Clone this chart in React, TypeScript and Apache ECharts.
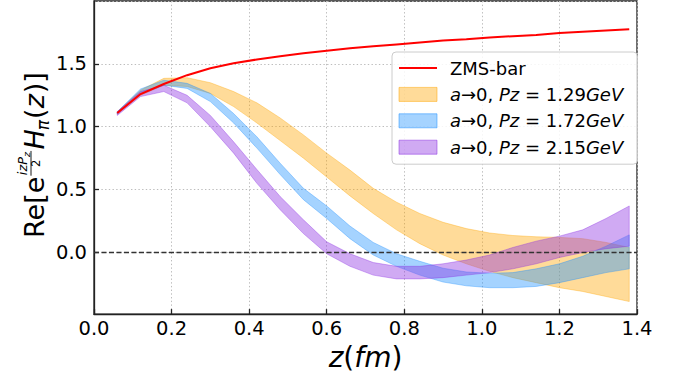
import React, { useEffect, useRef } from "react";
import * as echarts from "echarts";

// ---- data ----
const zValues = [0.06, 0.12, 0.18, 0.24, 0.3, 0.36, 0.42, 0.48, 0.54, 0.6, 0.66, 0.72, 0.78, 0.84, 0.9, 0.96, 1.02, 1.08, 1.14, 1.2, 1.26, 1.32, 1.38];

const zmsBar = [1.11, 1.26, 1.34, 1.41, 1.465, 1.505, 1.535, 1.56, 1.585, 1.605, 1.625, 1.64, 1.655, 1.67, 1.685, 1.695, 1.71, 1.72, 1.73, 1.745, 1.755, 1.765, 1.775];

const pz129Lo = [1.1, 1.25, 1.33, 1.32, 1.265, 1.16, 1.03, 0.89, 0.75, 0.6, 0.45, 0.31, 0.18, 0.07, -0.02, -0.09, -0.15, -0.2, -0.24, -0.28, -0.31, -0.35, -0.39];
const pz129Hi = [1.12, 1.29, 1.385, 1.39, 1.35, 1.28, 1.19, 1.07, 0.935, 0.79, 0.655, 0.51, 0.4, 0.31, 0.24, 0.19, 0.155, 0.135, 0.125, 0.12, 0.11, 0.08, 0.04];

const pz172Lo = [1.1, 1.26, 1.33, 1.305, 1.2, 1.03, 0.83, 0.62, 0.42, 0.27, 0.11, -0.02, -0.11, -0.18, -0.235, -0.265, -0.28, -0.28, -0.27, -0.24, -0.2, -0.16, -0.13];
const pz172Hi = [1.12, 1.3, 1.37, 1.345, 1.265, 1.105, 0.92, 0.71, 0.51, 0.37, 0.21, 0.08, -0.01, -0.07, -0.125, -0.155, -0.165, -0.16, -0.13, -0.09, -0.03, 0.05, 0.14];

const pz215Lo = [1.09, 1.24, 1.28, 1.19, 1.0, 0.79, 0.55, 0.34, 0.15, -0.01, -0.11, -0.18, -0.21, -0.21, -0.2, -0.18, -0.16, -0.13, -0.09, -0.04, 0.0, 0.03, 0.05];
const pz215Hi = [1.12, 1.28, 1.33, 1.25, 1.09, 0.88, 0.66, 0.445, 0.26, 0.085, -0.01, -0.08, -0.11, -0.11, -0.09, -0.06, -0.02, 0.04, 0.09, 0.13, 0.18, 0.27, 0.37];

const xTickValues = [0, 0.2, 0.4, 0.6, 0.8, 1.0, 1.2, 1.4];
const yTickValues = [0, 0.5, 1.0, 1.5];

const nameZms = "ZMS-bar";
const name129 = "a→0, Pz=1.29GeV";
const name172 = "a→0, Pz=1.72GeV";
const name215 = "a→0, Pz=2.15GeV";
const legendRich: Record<string, string> = {
  [nameZms]: "{n|ZMS-bar}",
  [name129]: "{i|a}{n|→0, }{i|Pz}{n| = 1.29}{i|GeV}",
  [name172]: "{i|a}{n|→0, }{i|Pz}{n| = 1.72}{i|GeV}",
  [name215]: "{i|a}{n|→0, }{i|Pz}{n| = 2.15}{i|GeV}",
};

const W = 673;
const H = 376;
const FAM = "'DejaVu Sans', 'Liberation Sans', sans-serif";

function measure(text: string, font: string): number {
  const c = document.createElement("canvas").getContext("2d");
  if (!c) return text.length * 10;
  c.font = font;
  return c.measureText(text).width;
}

function bandSeries(name: string, lo: number[], hi: number[], rgb: string, z: number) {
  const fill = `rgba(${rgb},0.4)`;
  const edge = `rgba(${rgb},0.45)`;
  return {
    type: "custom",
    name,
    z,
    coordinateSystem: "cartesian2d",
    silent: true,
    itemStyle: { color: fill, borderColor: edge, borderWidth: 1 },
    data: zValues.map((x, i) => [x, lo[i], hi[i]]),
    encode: { x: 0, y: [1, 2] },
    renderItem: (params: any, api: any) => {
      if (params.dataIndex !== 0) return null;
      const top = zValues.map((x, i) => api.coord([x, hi[i]]));
      const bot = zValues.map((x, i) => api.coord([x, lo[i]])).reverse();
      return {
        type: "polygon",
        shape: { points: top.concat(bot) },
        style: { fill, stroke: edge, lineWidth: 0.8 },
      };
    },
  };
}

function yTitle() {
  const fsMain = 27;
  const fsSup = 13;
  const fsSubZ = 9.5;
  const fsDen = 11.5;
  const fsPi = 17;
  const upright = (fs: number) => `${fs}px ${FAM}`;
  const italic = (fs: number) => `italic ${fs}px ${FAM}`;
  const c = 0.346; // baseline offset of the central baseline
  const txt = (text: string, x: number, base: number, fs: number, it: boolean) => ({
    type: "text",
    x,
    y: base - c * fs,
    style: {
      text,
      fontFamily: FAM,
      fontSize: fs,
      fontStyle: it ? "italic" : "normal",
      fill: "#000",
      align: "left",
      verticalAlign: "middle",
    },
  });
  const wRe = measure("Re[e", upright(fsMain));
  const fracX = wRe + 1;
  const wIzP = measure("izP", italic(fsSup));
  const wSz = measure("z", italic(fsSubZ));
  const numW = wIzP + wSz;
  const w2 = measure("2", upright(fsDen));
  const xH = fracX + numW + 3;
  const wH = measure("H", italic(fsMain));
  const xPi = xH + wH - 1;
  const wPi = measure("π", italic(fsPi));
  const xOpen = xPi + wPi + 1;
  const wOpen = measure("(", upright(fsMain));
  const xz = xOpen + wOpen;
  const wz = measure("z", italic(fsMain));
  const xClose = xz + wz + 1;
  return {
    type: "group",
    x: 44,
    y: 238,
    rotation: Math.PI / 2,
    children: [
      txt("Re[e", 0, 0, fsMain, false),
      txt("izP", fracX + 0.5, -17, fsSup, true),
      txt("z", fracX + 0.5 + wIzP, -14.5, fsSubZ, true),
      {
        type: "line",
        shape: { x1: fracX, y1: -13, x2: fracX + numW + 1.5, y2: -13 },
        style: { stroke: "#000", lineWidth: 0.9 },
      },
      txt("2", fracX + (numW + 1.5) / 2 - w2 / 2, -4, fsDen, false),
      txt("H", xH, 0, fsMain, true),
      txt("π", xPi, 5, fsPi, true),
      txt("(", xOpen, 0, fsMain, false),
      txt("z", xz, 0, fsMain, true),
      txt(")]", xClose, 0, fsMain, false),
    ],
  };
}

export default function App() {
  const ref = useRef<HTMLDivElement>(null);
  useEffect(() => {
    if (!ref.current) return;
    const chart = echarts.init(ref.current, null, { renderer: "svg" });
    const axisColor = "#222";
    const gridLine = { show: true, lineStyle: { color: "#bdbdbd", type: [1.4, 2.3], width: 1 } };
    const option: any = {
      animation: false,
      backgroundColor: "#fff",
      grid: { left: 94, right: 36, top: 1, bottom: 61.5, show: true, borderColor: axisColor, borderWidth: 1.3, backgroundColor: "transparent" },
      xAxis: {
        type: "value",
        min: 0,
        max: 1.4,
        interval: 0.2,
        name: "{i|z}{n|(}{i|fm}{n|)}",
        nameLocation: "middle",
        nameGap: 26,
        nameTextStyle: {
          rich: {
            i: { fontFamily: FAM, fontSize: 28, fontStyle: "italic", color: "#000", lineHeight: 28 },
            n: { fontFamily: FAM, fontSize: 28, color: "#000", lineHeight: 28 },
          },
        },
        axisLine: { show: true, onZero: false, lineStyle: { color: axisColor, width: 1.3 } },
        axisTick: { show: true, inside: true, length: 5, lineStyle: { color: axisColor, width: 1.3 } },
        axisLabel: {
          fontFamily: FAM,
          fontSize: 19.5,
          color: "#000",
          margin: 4,
          formatter: (v: number) => (xTickValues.some((t) => Math.abs(t - v) < 1e-9) ? v.toFixed(1) : ""),
        },
        splitLine: gridLine,
      },
      yAxis: {
        type: "value",
        min: -0.49,
        max: 2.0,
        splitNumber: 5,
        axisLine: { show: true, onZero: false, lineStyle: { color: axisColor, width: 1.3 } },
        axisTick: { show: true, inside: true, length: 5, lineStyle: { color: axisColor, width: 1.3 } },
        axisLabel: {
          fontFamily: FAM,
          fontSize: 19.5,
          color: "#000",
          margin: 7,
          showMinLabel: false,
          showMaxLabel: false,
          formatter: (v: number) => (yTickValues.some((t) => Math.abs(t - v) < 1e-9) ? v.toFixed(1) : ""),
        },
        splitLine: gridLine,
      },
      legend: {
        left: 392,
        top: 52,
        orient: "vertical",
        selectedMode: false,
        backgroundColor: "rgba(255,255,255,0.85)",
        borderColor: "#cccccc",
        borderWidth: 1,
        borderRadius: 4,
        padding: [7, 14, 8, 6],
        itemWidth: 38,
        itemHeight: 14,
        itemGap: 8.4,
        formatter: (n: string) => legendRich[n] || n,
        textStyle: {
          fontFamily: FAM,
          fontSize: 18,
          color: "#000",
          padding: [0, 0, 0, 8],
          rich: {
            n: { fontFamily: FAM, fontSize: 18, color: "#000", lineHeight: 18 },
            i: { fontFamily: FAM, fontSize: 18, fontStyle: "italic", color: "#000", lineHeight: 18 },
          },
        },
        data: [
          { name: nameZms, itemStyle: { opacity: 0, color: "rgba(0,0,0,0)", borderWidth: 0 } },
          { name: name129, icon: "rect", itemStyle: { color: "rgba(255,165,0,0.4)", borderColor: "rgba(255,165,0,0.5)", borderWidth: 1 } },
          { name: name172, icon: "rect", itemStyle: { color: "rgba(30,144,255,0.4)", borderColor: "rgba(30,144,255,0.5)", borderWidth: 1 } },
          { name: name215, icon: "rect", itemStyle: { color: "rgba(138,43,226,0.4)", borderColor: "rgba(138,43,226,0.5)", borderWidth: 1 } },
        ],
      },
      series: [
        bandSeries(name129, pz129Lo, pz129Hi, "255,165,0", 1),
        bandSeries(name172, pz172Lo, pz172Hi, "30,144,255", 2),
        bandSeries(name215, pz215Lo, pz215Hi, "138,43,226", 3),
        {
          type: "line",
          name: nameZms,
          z: 10,
          data: zValues.map((x, i) => [x, zmsBar[i]]),
          symbol: "none",
          showSymbol: false,
          lineStyle: { color: "#ff0000", width: 2 },
          itemStyle: { color: "#ff0000" },
          markLine: {
            silent: true,
            symbol: "none",
            label: { show: false },
            lineStyle: { color: "#333", type: [5, 2.5], width: 1.3 },
            data: [{ yAxis: 0 }],
          },
        },
      ],
      graphic: [yTitle()],
    };
    chart.setOption(option);
    return () => chart.dispose();
  }, []);
  return (
    <div
      ref={ref}
      style={{ position: "fixed", left: 0, top: 0, width: W, height: H, background: "#fff" }}
    />
  );
}
